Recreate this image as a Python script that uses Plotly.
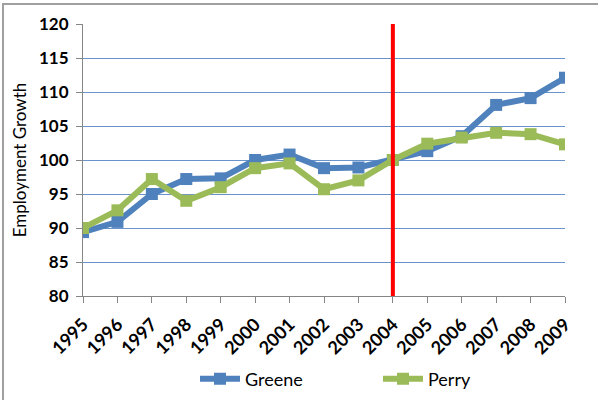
import plotly.graph_objects as go

years = list(range(1995, 2010))
greene = [89.4, 90.9, 95.0, 97.2, 97.3, 100.0, 100.8, 98.8, 98.9, 100.0, 101.3, 103.5, 108.1, 109.1, 112.1]
perry = [90.0, 92.6, 97.2, 94.0, 96.0, 98.8, 99.5, 95.7, 97.0, 100.0, 102.4, 103.3, 104.0, 103.8, 102.3]
y_ticks = [80, 85, 90, 95, 100, 105, 110, 115, 120]
event_year = 2004

FONT = "Lato"

fig = go.Figure()
fig.add_trace(go.Scatter(x=years, y=greene, name="Greene", mode="lines+markers",
                         line=dict(color="#4f81bd", width=6),
                         marker=dict(symbol="square", size=12, color="#4f81bd")))
fig.add_trace(go.Scatter(x=years, y=perry, name="Perry", mode="lines+markers",
                         line=dict(color="#9bbb59", width=6),
                         marker=dict(symbol="square", size=12, color="#9bbb59")))

fig.add_shape(type="line", xref="x", yref="y", x0=event_year, x1=event_year,
              y0=80, y1=120, line=dict(color="#ff0000", width=4))

# outer border
fig.add_shape(type="rect", xref="paper", yref="paper",
              x0=(3 - 83) / 482, x1=(598 - 83 + 5) / 482,
              y0=(296 - 405) / 272, y1=(296 - 4) / 272,
              line=dict(color="#a0a0a0", width=2), layer="below")

fig.update_layout(
    width=598, height=400,
    margin=dict(l=83, r=33, t=24, b=104),
    paper_bgcolor="white", plot_bgcolor="white",
    font=dict(family=FONT, size=14, color="#000000"),
    showlegend=True,
    legend=dict(orientation="h", xref="container", yref="container",
                x=195 / 598, xanchor="left", y=(400 - 379) / 400, yanchor="middle",
                font=dict(family=FONT, size=18, color="#000000"), itemwidth=40,
                entrywidth=128, entrywidthmode="pixels", tracegroupgap=0),
    xaxis=dict(range=[1995, 2009], tickmode="array", tickvals=years,
               ticktext=[f"<b>{y}</b>" for y in years], tickangle=-45,
               showgrid=False, showline=True, linecolor="#868686", linewidth=1,
               ticks="outside", ticklen=6, tickcolor="#868686", ticklabelstandoff=4,
               tickfont=dict(family=FONT, size=18), zeroline=False, automargin=False),
    yaxis=dict(range=[80, 120], tickmode="array", tickvals=y_ticks,
               ticktext=[f"<b>{v}</b>" for v in y_ticks],
               showgrid=True, gridcolor="#6a93cc", gridwidth=1,
               showline=True, linecolor="#868686", linewidth=1,
               ticks="outside", ticklen=6, tickcolor="#868686", ticklabelstandoff=4,
               tickfont=dict(family=FONT, size=17), zeroline=False, automargin=False,
               title=dict(text="Employment Growth", font=dict(family=FONT, size=17), standoff=8)),
)

fig.write_html("out.html", post_script="document.body.style.margin='0';",
               config={"displayModeBar": False})
